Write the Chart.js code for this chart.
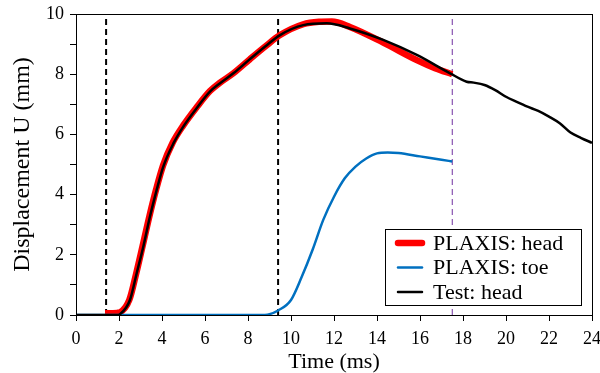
<!DOCTYPE html>
<html lang="en">
  <head>
    <meta charset="UTF-8" />
    <title>Displacement vs time</title>
    <style>
      html, body { margin: 0; padding: 0; background: #fff; }
    </style>
  </head>
  <body>
    <canvas id="dispChart" width="600" height="373"></canvas>

    <script src="https://cdn.jsdelivr.net/npm/chart.js"></script>
    <script>
      // Test: head
      const testTime = [0, 1.9, 2.05, 2.51, 2.82, 3.13, 3.44, 3.75, 4.06, 4.53, 4.99, 5.61, 6.23, 6.7, 7.32, 8.09, 8.8, 9.49, 10.57, 11.66, 12.74, 14.29, 15.85, 17.4, 18.17, 18.5, 19.0, 19.5, 20.0, 20.5, 21.0, 21.5, 22.0, 22.5, 23.0, 23.5, 24.0];
      const testHead = [0, 0, 0.03, 0.5, 1.38, 2.27, 3.27, 4.15, 4.93, 5.7, 6.26, 6.87, 7.42, 7.7, 8.03, 8.5, 8.92, 9.3, 9.63, 9.69, 9.52, 9.14, 8.64, 8.03, 7.75, 7.72, 7.64, 7.47, 7.25, 7.08, 6.92, 6.78, 6.59, 6.37, 6.06, 5.88, 5.72];

      // PLAXIS: head
      const plaxisTime = [1.35, 1.9, 2.05, 2.48, 2.8, 3.1, 3.42, 3.73, 4.05, 4.5, 4.99, 5.61, 6.23, 6.7, 7.32, 8.09, 8.8, 9.49, 10.57, 11.3, 11.9, 12.74, 14.29, 15.85, 16.7, 17.5];
      const plaxisHead = [0.06, 0.07, 0.09, 0.5, 1.38, 2.3, 3.3, 4.18, 4.97, 5.73, 6.3, 6.9, 7.44, 7.72, 8.03, 8.5, 8.92, 9.3, 9.66, 9.74, 9.75, 9.57, 9.05, 8.47, 8.2, 8.0];

      // PLAXIS: toe
      const toeTime = [0, 8.5, 9.0, 9.4, 10.0, 10.5, 11.0, 11.5, 12.0, 12.5, 13.0, 13.5, 14.0, 14.5, 15.0, 16.0, 17.0, 17.5];
      const plaxisToe = [0, 0, 0.03, 0.15, 0.5, 1.27, 2.16, 3.16, 3.93, 4.54, 4.93, 5.2, 5.37, 5.4, 5.38, 5.27, 5.16, 5.1];

      // vertical markers (ms)
      const markerTimes = [1.4, 9.4];
      const endTime = 17.5;

      const xTicks = [0, 2, 4, 6, 8, 10, 12, 14, 16, 18, 20, 22, 24];
      const FONT = 'Liberation Serif';

      const pts = (xs, ys) => xs.map((x, i) => ({ x: x, y: ys[i] }));
      const vline = (t) => [{ x: t, y: 0 }, { x: t, y: 10 }];

      // lower "order" is drawn on top
      const datasets = [
        ...markerTimes.map((t) => ({
          label: '',
          data: vline(t),
          borderColor: '#000',
          borderWidth: 2,
          borderDash: [6, 4],
          pointRadius: 0,
          order: 5,
          inLegend: false,
        })),
        {
          label: '',
          data: vline(endTime),
          borderColor: '#7030A0',
          borderWidth: 1,
          borderDash: [6, 4],
          pointRadius: 0,
          order: 5,
          inLegend: false,
        },
        {
          label: 'PLAXIS: head',
          data: pts(plaxisTime, plaxisHead),
          borderColor: '#ff0000',
          borderWidth: 6.5,
          pointRadius: 0,
          cubicInterpolationMode: 'monotone',
          order: 3,
          inLegend: true,
          legendWidth: 6.5,
        },
        {
          label: 'PLAXIS: toe',
          data: pts(toeTime, plaxisToe),
          borderColor: '#0070C0',
          borderWidth: 2.5,
          pointRadius: 0,
          cubicInterpolationMode: 'monotone',
          order: 2,
          inLegend: true,
          legendWidth: 2.5,
        },
        {
          label: 'Test: head',
          data: pts(testTime, testHead),
          borderColor: '#000',
          borderWidth: 2.5,
          pointRadius: 0,
          cubicInterpolationMode: 'monotone',
          order: 1,
          inLegend: true,
          legendWidth: 2.5,
        },
      ];

      // frame round the plot area + legend box inside it
      const framePlugin = {
        id: 'frame',
        afterDatasetsDraw(chart) {
          const { ctx, chartArea: a } = chart;
          ctx.save();
          ctx.strokeStyle = '#000';
          ctx.lineWidth = 1;
          ctx.strokeRect(a.left + 0.5, a.top + 0.5, a.right - a.left, a.bottom - a.top);

          // legend
          const items = chart.data.datasets.filter((d) => d.inLegend);
          const bx = 385, by = 229, bw = 196, bh = 76;
          ctx.fillStyle = '#fff';
          ctx.fillRect(bx, by, bw, bh);
          ctx.strokeStyle = '#000';
          ctx.strokeRect(bx + 0.5, by + 0.5, bw, bh);
          ctx.font = '22px "' + FONT + '"';
          ctx.textBaseline = 'middle';
          items.forEach((d, i) => {
            const y = by + 14 + i * 24.5;
            ctx.beginPath();
            ctx.lineCap = 'round';
            ctx.strokeStyle = d.borderColor;
            ctx.lineWidth = d.legendWidth;
            ctx.moveTo(bx + 13, y);
            ctx.lineTo(bx + 37, y);
            ctx.stroke();
            ctx.fillStyle = '#000';
            ctx.fillText(d.label, bx + 48, y + 1);
          });
          ctx.restore();
        },
      };

      new Chart(document.getElementById('dispChart').getContext('2d'), {
        type: 'line',
        data: { datasets: datasets },
        options: {
          responsive: false,
          animation: false,
          maintainAspectRatio: false,
          layout: { padding: { top: 14, right: 8, left: 4, bottom: 0 } },
          plugins: { legend: { display: false }, tooltip: { enabled: false } },
          scales: {
            x: {
              type: 'linear',
              min: 0,
              max: 24,
              afterBuildTicks: (axis) => {
                axis.ticks = xTicks.map((v) => ({ value: v }));
              },
              afterFit: (scale) => {
                scale.height = 58;
                scale.paddingLeft = 0;
                scale.paddingRight = 0;
              },
              grid: { drawOnChartArea: false, color: '#000', tickLength: 6 },
              border: { color: '#000' },
              ticks: {
                color: '#000',
                font: { family: FONT, size: 18 },
                maxRotation: 0,
                padding: 7,
              },
              title: {
                display: true,
                text: 'Time (ms)',
                color: '#000',
                font: { family: FONT, size: 22 },
                padding: { top: 0, bottom: -2 },
              },
            },
            y: {
              min: 0,
              max: 10,
              afterFit: (scale) => {
                scale.width = 72;
                scale.paddingTop = 0;
                scale.paddingBottom = 0;
              },
              grid: { drawOnChartArea: false, color: '#000', tickLength: 6 },
              border: { color: '#000' },
              ticks: {
                stepSize: 1,
                color: '#000',
                font: { family: FONT, size: 18 },
                padding: 6,
                callback: (v) => (v % 2 === 0 ? v : ''),
              },
              title: {
                display: true,
                text: 'Displacement U (mm)',
                color: '#000',
                font: { family: FONT, size: 24 },
                padding: { top: 4, bottom: 0 },
              },
            },
          },
        },
        plugins: [framePlugin],
      });
    </script>
  </body>
</html>
